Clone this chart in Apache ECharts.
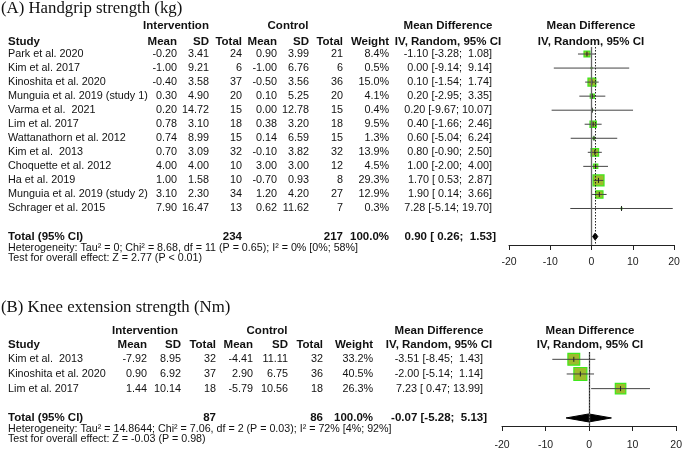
<!DOCTYPE html>
<html>
<head>
<meta charset="utf-8">
<script src="https://cdn.jsdelivr.net/npm/echarts@6/dist/echarts.min.js"></script>
<style>
  html, body { margin: 0; padding: 0; background: #fff; }
  #chart { width: 685px; height: 456px; }
</style>
</head>
<body>
<div id="chart"></div>
<script>
// ---- (A) Handgrip strength ----
const studyA = ['Park et al. 2020', 'Kim et al. 2017', 'Kinoshita et al. 2020', 'Munguia et al. 2019 (study 1)',
  'Varma et al.  2021', 'Lim et al. 2017', 'Wattanathorn et al. 2012', 'Kim et al.  2013',
  'Choquette et al. 2012', 'Ha et al. 2019', 'Munguia et al. 2019 (study 2)', 'Schrager et al. 2015']
const intMeanA = [-0.20, -1.00, -0.40, 0.30, 0.20, 0.78, 0.74, 0.70, 4.00, 1.00, 3.10, 7.90]
const intSdA = [3.41, 9.21, 3.58, 4.90, 14.72, 3.10, 8.99, 3.09, 4.00, 1.58, 2.30, 16.47]
const intNA = [24, 6, 37, 20, 15, 18, 15, 32, 10, 10, 34, 13]
const ctlMeanA = [0.90, -1.00, -0.50, 0.10, 0.00, 0.38, 0.14, -0.10, 3.00, -0.70, 1.20, 0.62]
const ctlSdA = [3.99, 6.76, 3.56, 5.25, 12.78, 3.20, 6.59, 3.82, 3.00, 0.93, 4.20, 11.62]
const ctlNA = [21, 6, 36, 20, 15, 18, 15, 32, 12, 8, 27, 7]
const weightA = [8.4, 0.5, 15.0, 4.1, 0.4, 9.5, 1.3, 13.9, 4.5, 29.3, 12.9, 0.3]
const mdA = [-1.10, 0.00, 0.10, 0.20, 0.20, 0.40, 0.60, 0.80, 1.00, 1.70, 1.90, 7.28]
const loA = [-3.28, -9.14, -1.54, -2.95, -9.67, -1.66, -5.04, -0.90, -2.00, 0.53, 0.14, -5.14]
const hiA = [1.08, 9.14, 1.74, 3.35, 10.07, 2.46, 6.24, 2.50, 4.00, 2.87, 3.66, 19.70]
const totalA = [234, 217, 0.90, 0.26, 1.53]   // n int, n ctl, md, lo, hi
const hetA = 'Heterogeneity: Tau² = 0; Chi² = 8.68, df = 11 (P = 0.65); I² = 0% [0%; 58%]'
const testA = 'Test for overall effect: Z = 2.77 (P < 0.01)'

// ---- (B) Knee extension strength ----
const studyB = ['Kim et al.  2013', 'Kinoshita et al. 2020', 'Lim et al. 2017']
const intMeanB = [-7.92, 0.90, 1.44]
const intSdB = [8.95, 6.92, 10.14]
const intNB = [32, 37, 18]
const ctlMeanB = [-4.41, 2.90, -5.79]
const ctlSdB = [11.11, 6.75, 10.56]
const ctlNB = [32, 36, 18]
const weightB = [33.2, 40.5, 26.3]
const mdB = [-3.51, -2.00, 7.23]
const loB = [-8.45, -5.14, 0.47]
const hiB = [1.43, 1.14, 13.99]
const totalB = [87, 86, -0.07, -5.28, 5.13]
const hetB = 'Heterogeneity: Tau² = 14.8644; Chi² = 7.06, df = 2 (P = 0.03); I² = 72% [4%; 92%]'
const testB = 'Test for overall effect: Z = -0.03 (P = 0.98)'

const xTicks = [-20, -10, 0, 10, 20]

const FONT = '"Liberation Sans", Arial, sans-serif'
const TXT = '#111'

const f2 = v => v.toFixed(2)
const ci = (md, lo, hi) => f2(md) + ' [' + f2(lo).padStart(5) + '; ' + f2(hi).padStart(5) + ']'

function txt(x, y, s, align, bold, size) {
  return {
    type: 'text', x: x, y: y, silent: true,
    style: {
      text: s, align: align, verticalAlign: 'middle', fill: TXT,
      font: (bold ? 'bold ' : '') + (size || (bold ? 11.5 : 10.8)) + 'px ' + FONT
    }
  }
}

// builds the table series for one panel
function tableSeries(idx, p) {
  return {
    type: 'custom', xAxisIndex: idx, yAxisIndex: idx, silent: true, clip: false,
    data: [[0, 0]],
    renderItem: function (params, api) {
      const Y = r => api.coord([0, r])[1]
      const c = p.cols
      const ch = []
      const h1 = Y(p.h1), h2 = Y(p.h2)
      ch.push(txt(p.intC, h1, 'Intervention', 'center', true))
      ch.push(txt(p.ctlC, h1, 'Control', 'center', true))
      ch.push(txt(p.mdC, h1, 'Mean Difference', 'center', true))
      ch.push(txt(p.plotC, h1, 'Mean Difference', 'center', true))
      ch.push(txt(c.study, h2, 'Study', 'left', true))
      ch.push(txt(c.im, h2, 'Mean', 'right', true))
      ch.push(txt(c.isd, h2, 'SD', 'right', true))
      ch.push(txt(c.inn, h2, 'Total', 'right', true))
      ch.push(txt(c.cm, h2, 'Mean', 'right', true))
      ch.push(txt(c.csd, h2, 'SD', 'right', true))
      ch.push(txt(c.cn, h2, 'Total', 'right', true))
      ch.push(txt(c.w, h2, 'Weight', 'right', true))
      ch.push(txt(p.mdC, h2, 'IV, Random, 95% CI', 'center', true))
      ch.push(txt(p.plotC, h2, 'IV, Random, 95% CI', 'center', true))
      p.study.forEach((s, i) => {
        const y = Y(i)
        ch.push(txt(c.study, y, s, 'left'))
        ch.push(txt(c.im, y, f2(p.im[i]), 'right'))
        ch.push(txt(c.isd, y, f2(p.isd[i]), 'right'))
        ch.push(txt(c.inn, y, String(p.inn[i]), 'right'))
        ch.push(txt(c.cm, y, f2(p.cm[i]), 'right'))
        ch.push(txt(c.csd, y, f2(p.csd[i]), 'right'))
        ch.push(txt(c.cn, y, String(p.cn[i]), 'right'))
        ch.push(txt(c.w, y, p.w[i].toFixed(1) + '%', 'right'))
        ch.push(txt(c.md, y, ci(p.md[i], p.lo[i], p.hi[i]), 'right'))
      })
      const t = p.total, ty = Y(p.study.length + 1)
      ch.push(txt(c.study, ty, 'Total (95% CI)', 'left', true))
      ch.push(txt(c.inn, ty, String(t[0]), 'right', true))
      ch.push(txt(c.cn, ty, String(t[1]), 'right', true))
      ch.push(txt(c.w, ty, '100.0%', 'right', true))
      ch.push(txt(c.md + 4, ty, ci(t[2], t[3], t[4]), 'right', true))
      ch.push(txt(c.study, ty + 11, p.het, 'left', false, 10.7))
      ch.push(txt(c.study, ty + 21, p.test, 'left', false, 10.7))
      return { type: 'group', children: ch }
    }
  }
}

// boxes + whiskers
function forestSeries(idx, md, lo, hi, w, maxBox, pooled) {
  const maxW = Math.max(...w)
  return {
    type: 'custom', xAxisIndex: idx, yAxisIndex: idx, silent: true, clip: false,
    data: md.map((m, i) => [m, i, lo[i], hi[i], w[i]]),
    encode: { x: 0, y: 1 },
    renderItem: function (params, api) {
      const p = api.coord([api.value(0), api.value(1)])
      const l = api.coord([api.value(2), api.value(1)])
      const h = api.coord([api.value(3), api.value(1)])
      const s = Math.max(1.5, maxBox * Math.sqrt(api.value(4) / maxW))
      return {
        type: 'group', children: [
          { type: 'rect', shape: { x: p[0] - s / 2, y: p[1] - s / 2, width: s, height: s },
            style: { fill: '#9dbb2c', stroke: '#3fe81c', lineWidth: s > 3 ? 1.2 : 0.8 } },
          { type: 'line', shape: { x1: l[0], y1: p[1], x2: h[0], y2: p[1] },
            style: { stroke: '#444', lineWidth: 1 } },
          { type: 'line', shape: { x1: p[0], y1: p[1] - 2.5, x2: p[0], y2: p[1] + 2.5 },
            style: { stroke: '#222', lineWidth: 1 } }
        ]
      }
    },
    markLine: {
      silent: true, symbol: 'none', label: { show: false },
      data: [
        { xAxis: 0, lineStyle: { color: '#666', width: 1.3, type: 'solid' } },
        { xAxis: pooled, lineStyle: { color: '#222', width: 1, type: [1.5, 1.5] } }
      ]
    }
  }
}

function diamondSeries(idx, row, t, half) {
  return {
    type: 'custom', xAxisIndex: idx, yAxisIndex: idx, silent: true, clip: false,
    data: [[t[2], row, t[3], t[4]]],
    encode: { x: 0, y: 1 },
    renderItem: function (params, api) {
      const p = api.coord([api.value(0), api.value(1)])
      const l = api.coord([api.value(2), api.value(1)])
      const h = api.coord([api.value(3), api.value(1)])
      return {
        type: 'polygon',
        shape: { points: [[l[0], p[1]], [p[0], p[1] - half], [h[0], p[1]], [p[0], p[1] + half]] },
        style: { fill: '#000', stroke: '#000', lineWidth: 1 }
      }
    }
  }
}

function xAxis(idx, margin) {
  return {
    type: 'value', gridIndex: idx, min: xTicks[0], max: xTicks[xTicks.length - 1], interval: 10,
    axisLine: { show: true, onZero: false, lineStyle: { color: '#222', width: 1 } },
    axisTick: { show: true, length: 5, lineStyle: { color: '#222' } },
    axisLabel: { color: '#222', fontSize: 10.5, fontFamily: FONT, margin: margin },
    splitLine: { show: false }
  }
}

function yAxis(idx, max) {
  return { type: 'value', gridIndex: idx, inverse: true, min: -0.5, max: max, show: false }
}

const colsA = { study: 8, im: 177, isd: 209, inn: 242, cm: 277, csd: 309, cn: 343, w: 389, md: 492 }
const colsB = { study: 8, im: 147, isd: 181, inn: 216, cm: 253, csd: 288, cn: 323, w: 373, md: 483 }

const titleStyle = { fontFamily: '"Liberation Serif", serif', fontWeight: 'normal', fontSize: 16.8, color: '#111' }

const option = {
  animation: false,
  backgroundColor: '#fff',
  title: [
    { text: '(A) Handgrip strength (kg)', left: 1, top: 0, padding: 0, textStyle: titleStyle },
    { text: '(B) Knee extension strength (Nm)', left: 1, top: 299, padding: 0, textStyle: titleStyle }
  ],
  grid: [
    { left: 509, width: 165, top: 47, height: 198 },
    { left: 502, width: 177, top: 352, height: 74 }
  ],
  xAxis: [xAxis(0, 12), xAxis(1, 14)],
  yAxis: [yAxis(0, 13.6), yAxis(1, 4.55)],
  series: [
    tableSeries(0, { cols: colsA, h1: -2, h2: -0.88, intC: 176, ctlC: 288, mdC: 448, plotC: 591,
      study: studyA, im: intMeanA, isd: intSdA, inn: intNA, cm: ctlMeanA, csd: ctlSdA, cn: ctlNA,
      w: weightA, md: mdA, lo: loA, hi: hiA, total: totalA, het: hetA, test: testA }),
    forestSeries(0, mdA, loA, hiA, weightA, 11, totalA[2]),
    diamondSeries(0, studyA.length + 1, totalA, 3.5),
    tableSeries(1, { cols: colsB, h1: -1.93, h2: -0.97, intC: 145, ctlC: 267, mdC: 439, plotC: 590,
      study: studyB, im: intMeanB, isd: intSdB, inn: intNB, cm: ctlMeanB, csd: ctlSdB, cn: ctlNB,
      w: weightB, md: mdB, lo: loB, hi: hiB, total: totalB, het: hetB, test: testB }),
    forestSeries(1, mdB, loB, hiB, weightB, 13, totalB[2]),
    diamondSeries(1, studyB.length + 1, totalB, 4)
  ]
}

const chart = echarts.init(document.getElementById('chart'))
chart.setOption(option)
</script>
</body>
</html>
